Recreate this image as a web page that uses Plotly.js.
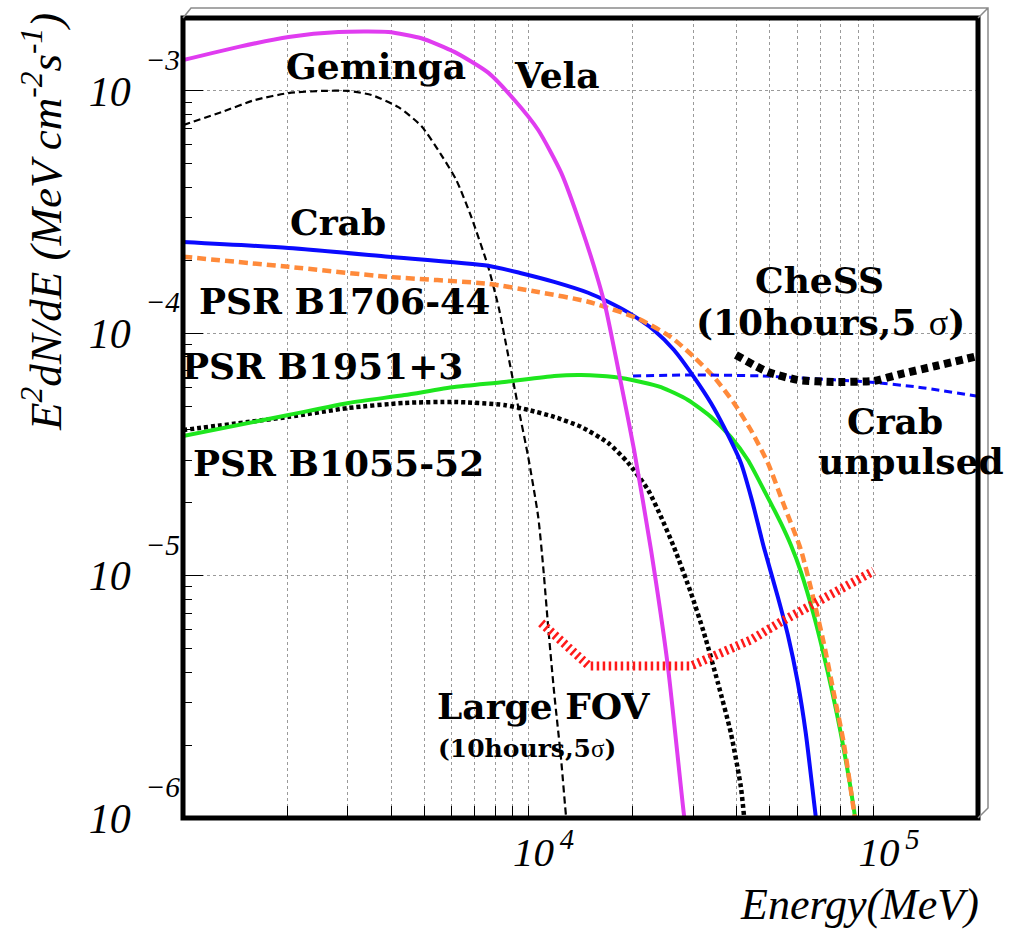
<!DOCTYPE html>
<html>
<head>
<meta charset="utf-8">
<script src="https://cdn.plot.ly/plotly-3.0.1.min.js"></script>
<style>body{margin:0;padding:0;background:#fff;} #chart{width:1016px;height:929px;}</style>
</head>
<body>
<div id="chart"></div>
<script>
// ---- Data (Energy in MeV, E^2 dN/dE in MeV cm^-2 s^-1) ----
const velaE = [1000, 1449, 2021, 2818, 3931, 4897, 6100, 7645, 9093, 10667, 12430, 14202, 15900, 16770, 18535, 20210, 22620, 25330, 28185, 28600];
const velaF = [1.34e-3, 1.52e-3, 1.67e-3, 1.75e-3, 1.75e-3, 1.65e-3, 1.45e-3, 1.19e-3, 9.2e-4, 6.9e-4, 4.6e-4, 2.75e-4, 1.66e-4, 1.25e-4, 6.2e-5, 3.3e-5, 1.28e-5, 4.2e-6, 1.03e-6, 9.0e-7];

const gemingaE = [1000, 1294, 1612, 2021, 2517, 3012, 3512, 4202, 4897, 5595, 6180, 6830, 7645, 8228, 8506, 9337, 9980, 10667, 11027, 11402, 11867, 12430, 12850, 13000];
const gemingaF = [7.23e-4, 8.18e-4, 9.17e-4, 9.8e-4, 1.0e-3, 1.0e-3, 9.62e-4, 8.58e-4, 7.16e-4, 5.44e-4, 4.29e-4, 3.02e-4, 1.88e-4, 1.25e-4, 9.84e-5, 4.97e-5, 3.09e-5, 1.75e-5, 1.09e-5, 6.14e-6, 3.28e-6, 1.74e-6, 1.01e-6, 9.0e-7];

const crabE = [1000, 2021, 3931, 7645, 9526, 11867, 14877, 16993, 19420, 23080, 26370, 30120, 33730, 36780, 41190, 44320, 47990, 52690, 56330, 60200, 63470, 66930, 68500];
const crabF = [2.38e-4, 2.25e-4, 2.07e-4, 1.9e-4, 1.77e-4, 1.63e-4, 1.47e-4, 1.35e-4, 1.22e-4, 1.03e-4, 8.53e-5, 6.6e-5, 5.16e-5, 4.11e-5, 2.92e-5, 2.05e-5, 1.31e-5, 8.17e-6, 5.69e-6, 3.61e-6, 2.24e-6, 1.19e-6, 9.0e-7];

const b1706E = [1000, 2021, 3931, 7645, 10667, 14877, 20750, 25840, 30120, 34410, 39310, 44010, 49290, 54830, 61410, 66930, 71540, 76480, 81740, 87370, 89000];
const b1706F = [2.07e-4, 1.88e-4, 1.71e-4, 1.6e-4, 1.48e-4, 1.35e-4, 1.15e-4, 9.65e-5, 7.98e-5, 6.6e-5, 5.16e-5, 3.99e-5, 2.92e-5, 1.96e-5, 1.28e-5, 7.94e-6, 5.28e-6, 3.28e-6, 2.04e-6, 1.08e-6, 9.0e-7];

const b1951E = [1000, 2021, 3012, 4374, 6100, 8506, 11867, 14202, 17690, 21170, 24180, 28940, 33730, 38530, 43150, 47990, 53740, 57430, 61410, 66930, 73480, 80120, 87370, 89000];
const b1951F = [3.77e-5, 4.6e-5, 5.16e-5, 5.56e-5, 6.0e-5, 6.3e-5, 6.67e-5, 6.73e-5, 6.6e-5, 6.3e-5, 6.0e-5, 5.31e-5, 4.52e-5, 3.73e-5, 3.0e-5, 2.26e-5, 1.65e-5, 1.34e-5, 1.04e-5, 6.88e-6, 4.0e-6, 2.24e-6, 1.1e-6, 9.0e-7];

const b1055E = [1000, 2021, 3012, 4374, 6100, 8506, 9980, 11867, 14202, 16993, 19420, 22180, 24180, 26370, 29530, 32200, 35340, 38530, 41190, 42020];
const b1055F = [3.99e-5, 4.52e-5, 4.92e-5, 5.16e-5, 5.21e-5, 5.06e-5, 4.83e-5, 4.52e-5, 4.11e-5, 3.53e-5, 2.92e-5, 2.26e-5, 1.75e-5, 1.31e-5, 8.48e-6, 5.8e-6, 3.61e-6, 2.24e-6, 1.34e-6, 1.03e-6];

const unpulsedE = [20070, 30120, 47040, 61410, 95900, 133800, 200000];
const unpulsedF = [6.67e-5, 6.73e-5, 6.67e-5, 6.54e-5, 6.3e-5, 6.0e-5, 5.5e-5];

const chessE = [39840, 49290, 60200, 76480, 99800, 119500, 150800, 200000];
const chessF = [8.14e-5, 6.92e-5, 6.42e-5, 6.3e-5, 6.36e-5, 6.79e-5, 7.33e-5, 8.06e-5];

const largeFovE = [10880, 14980, 29530, 33730, 44010, 53740, 67850, 99800];
const largeFovF = [6.38e-6, 4.24e-6, 4.24e-6, 4.62e-6, 5.43e-6, 6.44e-6, 7.72e-6, 1.046e-5];

// ---- Tick labels ----
const xTickVals = [1e4, 1e5];
const xTickText = ["10<sup>\u20094</sup>", "10<sup>\u20095</sup>"];
const xMinorVals = [2000, 3000, 4000, 5000, 6000, 7000, 8000, 9000, 20000, 30000, 40000, 50000, 60000, 70000, 80000, 90000];
const yTickVals = [1e-6, 1e-5, 1e-4, 1e-3];
const yTickText = ["10<sup><span style=\"baseline-shift:18px\">\u2002\u22126</span></sup>",
                   "10<sup><span style=\"baseline-shift:18px\">\u2002\u22125</span></sup>",
                   "10<sup><span style=\"baseline-shift:18px\">\u2002\u22124</span></sup>",
                   "10<sup><span style=\"baseline-shift:18px\">\u2002\u22123</span></sup>"];
const yMinorVals = [2e-6, 3e-6, 4e-6, 5e-6, 6e-6, 7e-6, 8e-6, 9e-6, 2e-5, 3e-5, 4e-5, 5e-5, 6e-5, 7e-5, 8e-5, 9e-5, 2e-4, 3e-4, 4e-4, 5e-4, 6e-4, 7e-4, 8e-4, 9e-4];

const traces = [
  {x: gemingaE, y: gemingaF, mode: 'lines', line: {color: '#000000', width: 2.2, dash: '7px,4px', shape: 'spline', smoothing: 0.6}},
  {x: b1055E, y: b1055F, mode: 'lines', line: {color: '#000000', width: 4.5, dash: '4px,3px', shape: 'spline', smoothing: 0.6}},
  {x: b1951E, y: b1951F, mode: 'lines', line: {color: '#1ee61e', width: 4, shape: 'spline', smoothing: 0.6}},
  {x: crabE, y: crabF, mode: 'lines', line: {color: '#0a0aff', width: 4, shape: 'spline', smoothing: 0.6}},
  {x: b1706E, y: b1706F, mode: 'lines', line: {color: '#ff8a3a', width: 4.5, dash: '9px,5px', shape: 'spline', smoothing: 0.6}},
  {x: velaE, y: velaF, mode: 'lines', line: {color: '#e03cf0', width: 4, shape: 'spline', smoothing: 0.6}},
  {x: unpulsedE, y: unpulsedF, mode: 'lines', line: {color: '#0a0aff', width: 3, dash: '8px,5px', shape: 'spline', smoothing: 0.6}},
  {x: chessE, y: chessF, mode: 'lines', line: {color: '#000000', width: 8, dash: '7px,5px', shape: 'spline', smoothing: 0.5}},
  {x: largeFovE, y: largeFovF, mode: 'lines', line: {color: '#ff1a1a', width: 9, dash: '2.5px,3.5px'}}
];

const L = 183, T = 18, W = 795, H = 800;
function px(x) { return (x - L) / W; }
function py(y) { return (T + H - y) / H; }

const labelFont = {family: 'DejaVu Serif', size: 36, color: '#000', weight: 'bold'};
function lab(text, x, y, size) {
  const f = Object.assign({}, labelFont);
  if (size) f.size = size;
  return {text: text, xref: 'paper', yref: 'paper', x: px(x), y: py(y), xanchor: 'center', yanchor: 'middle', showarrow: false, font: f};
}
const sig = "<span style=\"font-family:'Liberation Serif';font-weight:normal\">\u03c3</span>";

const annotations = [
  lab('Geminga', 376, 66),
  lab('Vela', 557, 75),
  lab('Crab', 338, 222),
  lab('PSR B1706-44', 344, 301),
  lab('PSR B1951+3', 322, 366),
  lab('PSR B1055-52', 338, 463),
  lab('CheSS', 819, 280),
  lab('(10hours,5 ' + sig + ')', 830, 322),
  lab('Crab', 895, 421),
  lab('unpulsed', 911, 461),
  lab('Large FOV', 544, 706),
  lab('(10hours,5' + sig + ')', 527, 748, 25),
  {text: 'E<sup>2</sup>dN/dE (MeV cm<sup>-2</sup>s<sup>-1</sup>)', xref: 'paper', yref: 'paper', x: px(42), y: py(222),
   xanchor: 'center', yanchor: 'middle', textangle: -90, showarrow: false,
   font: {family: 'Liberation Serif', size: 45, style: 'italic', color: '#000'}},
  {text: 'Energy(MeV)', xref: 'paper', yref: 'paper', x: px(981), y: py(905),
   xanchor: 'right', yanchor: 'middle', showarrow: false,
   font: {family: 'Liberation Serif', size: 44, style: 'italic', color: '#000'}}
];

const gridStyle = {gridcolor: '#9a9a9a', griddash: '3px,3px', gridwidth: 1};

const layout = {
  width: 1016, height: 929,
  margin: {l: L, r: 1016 - L - W, t: T, b: 929 - T - H},
  paper_bgcolor: '#ffffff', plot_bgcolor: '#ffffff',
  showlegend: false,
  xaxis: Object.assign({
    type: 'log', range: [3, Math.log10(2e5)], tickmode: 'array', tickvals: xTickVals, ticktext: xTickText,
    ticks: 'inside', ticklen: 12, tickwidth: 1, tickcolor: '#000', showline: false, zeroline: false,
    showgrid: true, ticklabelshift: 15, ticklabelstandoff: 6,
    tickfont: {family: 'Liberation Serif', size: 41, style: 'italic', color: '#000'},
    minor: Object.assign({tickmode: 'array', tickvals: xMinorVals, ticks: 'inside', ticklen: 12, tickwidth: 1, tickcolor: '#000', showgrid: true}, gridStyle)
  }, gridStyle),
  yaxis: Object.assign({
    type: 'log', range: [-6, Math.log10(2e-3)], tickmode: 'array', tickvals: yTickVals, ticktext: yTickText,
    ticks: 'inside', ticklen: 20, tickwidth: 1, tickcolor: '#000', showline: false, zeroline: false,
    showgrid: true, ticklabelstandoff: 2,
    tickfont: {family: 'Liberation Serif', size: 42, style: 'italic', color: '#000'},
    minor: {tickmode: 'array', tickvals: yMinorVals, ticks: 'inside', ticklen: 9, tickwidth: 1, tickcolor: '#000', showgrid: false}
  }, gridStyle),
  shapes: [
    {type: 'rect', xref: 'paper', yref: 'paper', x0: 0, x1: 1, y0: 0, y1: 1, line: {color: '#000', width: 5}, layer: 'above'},
    {type: 'path', xref: 'paper', yref: 'paper', layer: 'above',
     path: 'M 0,1 L ' + px(191) + ',' + py(8) + ' L ' + px(988) + ',' + py(8) + ' L ' + px(988) + ',' + py(808) + ' L 1,0 M 1,1 L ' + px(988) + ',' + py(8),
     line: {color: '#8a8a8a', width: 1.5}}
  ],
  annotations: annotations
};

Plotly.newPlot('chart', traces, layout, {staticPlot: true, displayModeBar: false});
</script>
</body>
</html>
